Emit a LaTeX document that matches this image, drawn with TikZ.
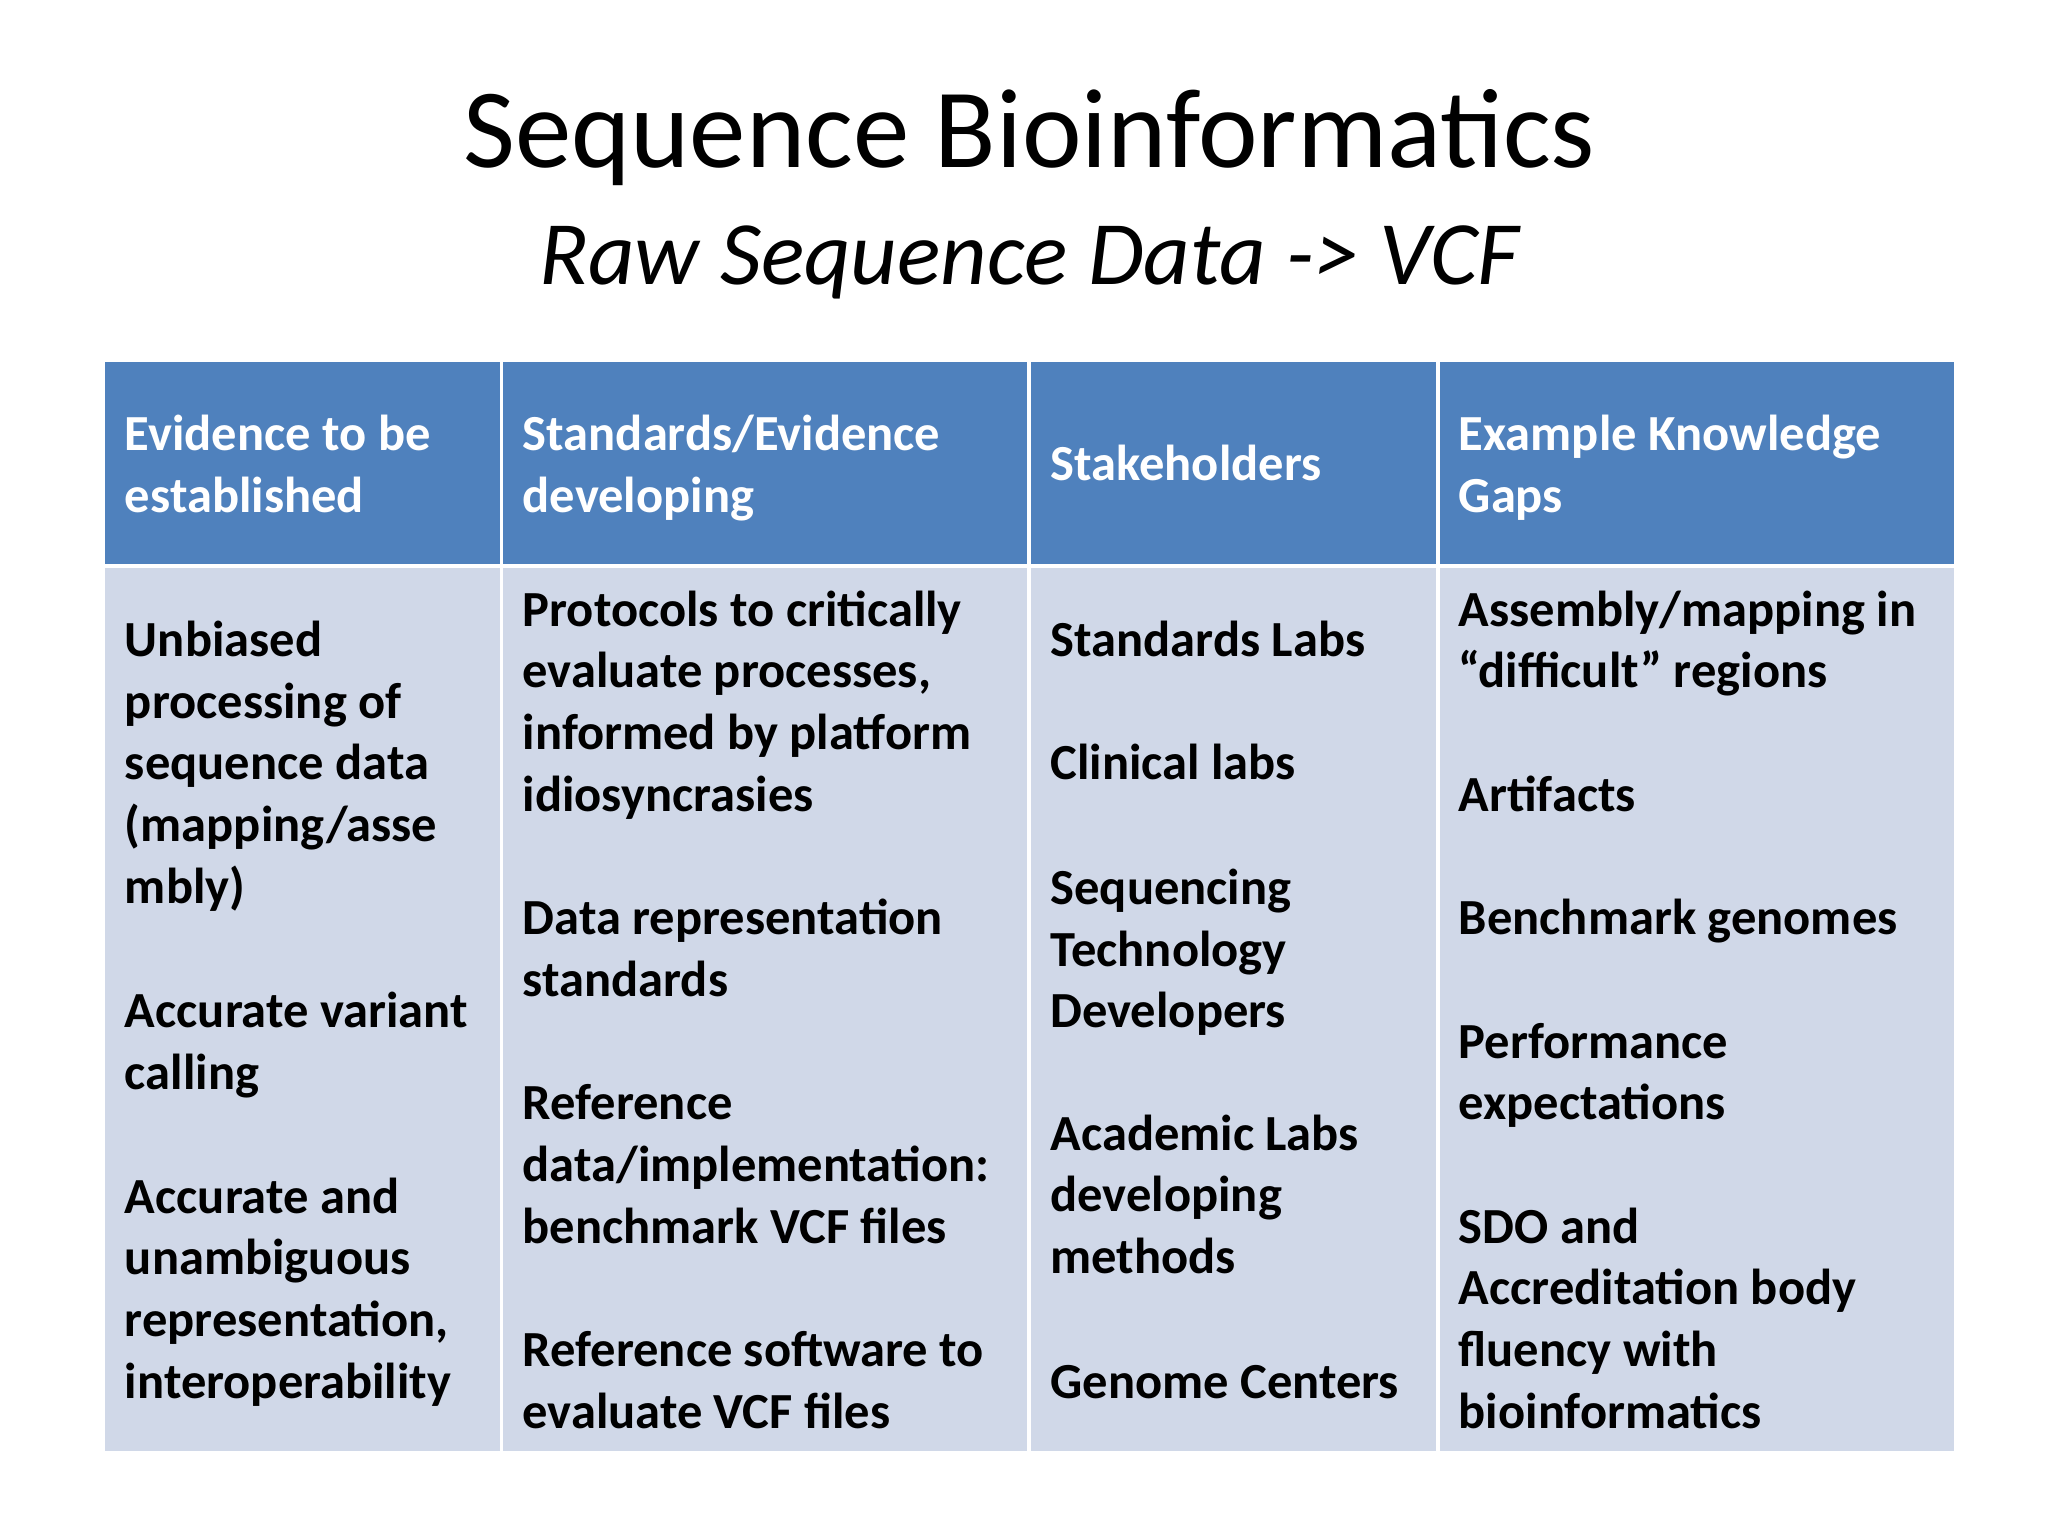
\documentclass[tikz,border=0pt]{standalone}
\usepackage{fontspec}
\setmainfont{Carlito}
\definecolor{hdr}{HTML}{4F81BD}
\definecolor{bdy}{HTML}{D0D8E8}
\tikzset{cell/.style={inner sep=0pt,anchor=base west,align=left,font=\fontsize{38.5}{47}\selectfont\bfseries},
hcell/.style={cell,text=white}}
\begin{document}
\begin{tikzpicture}[x=1pt,y=-1pt]
\useasboundingbox (0,0) rectangle (1560,1170);
\node[inner sep=0] (title) at (784,105) {\fontsize{86}{90}\selectfont Sequence Bioinformatics};
\node[inner sep=0] (sub) at (784,200) {\fontsize{69}{70}\selectfont\itshape Raw Sequence Data -> VCF};
\fill[hdr] (80,276) rectangle (1488,430);
\fill[bdy] (80,430) rectangle (1488,1105);
\draw[white,line width=3pt] (80,431) -- (1488,431);
\foreach \x in {382,784,1095} \draw[white,line width=3pt] (\x,276) -- (\x,1105);
\node[hcell] (h1) at (95,390) {Evidence to be\\established};
\node[hcell] (h2) at (398,390) {Standards/Evidence\\developing};
\node[hcell] (h3) at (800,366) {Stakeholders};
\node[hcell] (h4) at (1111,390) {Example Knowledge\\Gaps};
\node[cell] (a1) at (95,688) {Unbiased\\processing of\\sequence data\\(mapping/asse\\mbly)};
\node[cell] (a2) at (95,830) {Accurate variant\\calling};
\node[cell] (a3) at (95,1065) {Accurate and\\unambiguous\\representation,\\interoperability};
\node[cell] (b1) at (398,618) {Protocols to critically\\evaluate processes,\\informed by platform\\idiosyncrasies};
\node[cell] (b2) at (398,759) {Data representation\\standards};
\node[cell] (b3) at (398,947) {Reference\\data/implementation:\\benchmark VCF files};
\node[cell] (b4) at (398,1088) {Reference software to\\evaluate VCF files};
\node[cell] (c1) at (800,500) {Standards Labs};
\node[cell] (c2) at (800,594) {Clinical labs};
\node[cell] (c3) at (800,783) {Sequencing\\Technology\\Developers};
\node[cell] (c4) at (800,970) {Academic Labs\\developing\\methods};
\node[cell] (c5) at (800,1065) {Genome Centers};
\node[cell] (d1) at (1111,524) {Assembly/mapping in\\“difficult” regions};
\node[cell] (d2) at (1111,618) {Artifacts};
\node[cell] (d3) at (1111,712) {Benchmark genomes};
\node[cell] (d4) at (1111,853) {Performance\\expectations};
\node[cell] (d5) at (1111,1088) {SDO and\\Accreditation body\\fluency with\\bioinformatics};
\end{tikzpicture}
\end{document}
